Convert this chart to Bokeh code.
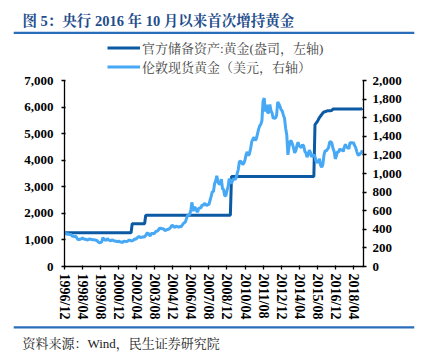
import pandas as pd
from bokeh.plotting import figure
from bokeh.models import (Range1d, LinearAxis, NumeralTickFormatter, FixedTicker,
                          Legend, LegendItem, ColumnDataSource, Title)
from bokeh.embed import file_html
from bokeh.resources import INLINE

title_text = "图 5：央行 2016 年 10 月以来首次增持黄金"
source_text = "资料来源：Wind，民生证券研究院"
series_names = ["官方储备资产:黄金(盎司，左轴)", "伦敦现货黄金（美元，右轴）"]

start_month = "1996-12"
end_month = "2018-12"

# Official gold reserve (10k oz), monthly from 1996/12
gold_reserve = (
    [1267]
    + [1267, 1267, 1267, 1267, 1267, 1267, 1267, 1267, 1267, 1267, 1267, 1267]  # 1997
    + [1267, 1267, 1267, 1267, 1267, 1267, 1267, 1267, 1267, 1267, 1267, 1267]  # 1998
    + [1267, 1267, 1267, 1267, 1267, 1267, 1267, 1267, 1267, 1267, 1267, 1267]  # 1999
    + [1267, 1267, 1267, 1267, 1267, 1267, 1267, 1267, 1267, 1267, 1267, 1267]  # 2000
    + [1267, 1267, 1267, 1267, 1267, 1267, 1267, 1267, 1267, 1267, 1267, 1608]  # 2001
    + [1608, 1608, 1608, 1608, 1608, 1608, 1608, 1608, 1608, 1608, 1608, 1929]  # 2002
    + [1929, 1929, 1929, 1929, 1929, 1929, 1929, 1929, 1929, 1929, 1929, 1929]  # 2003
    + [1929, 1929, 1929, 1929, 1929, 1929, 1929, 1929, 1929, 1929, 1929, 1929]  # 2004
    + [1929, 1929, 1929, 1929, 1929, 1929, 1929, 1929, 1929, 1929, 1929, 1929]  # 2005
    + [1929, 1929, 1929, 1929, 1929, 1929, 1929, 1929, 1929, 1929, 1929, 1929]  # 2006
    + [1929, 1929, 1929, 1929, 1929, 1929, 1929, 1929, 1929, 1929, 1929, 1929]  # 2007
    + [1929, 1929, 1929, 1929, 1929, 1929, 1929, 1929, 1929, 1929, 1929, 1929]  # 2008
    + [1929, 1929, 1929, 3389, 3389, 3389, 3389, 3389, 3389, 3389, 3389, 3389]  # 2009
    + [3389, 3389, 3389, 3389, 3389, 3389, 3389, 3389, 3389, 3389, 3389, 3389]  # 2010
    + [3389, 3389, 3389, 3389, 3389, 3389, 3389, 3389, 3389, 3389, 3389, 3389]  # 2011
    + [3389, 3389, 3389, 3389, 3389, 3389, 3389, 3389, 3389, 3389, 3389, 3389]  # 2012
    + [3389, 3389, 3389, 3389, 3389, 3389, 3389, 3389, 3389, 3389, 3389, 3389]  # 2013
    + [3389, 3389, 3389, 3389, 3389, 3389, 3389, 3389, 3389, 3389, 3389, 3389]  # 2014
    + [3389, 3389, 3389, 3389, 3389, 5332, 5393, 5450, 5529, 5605, 5666, 5719]  # 2015
    + [5779, 5814, 5828, 5842, 5862, 5862, 5862, 5862, 5880, 5924, 5924, 5924]  # 2016
    + [5924, 5924, 5924, 5924, 5924, 5924, 5924, 5924, 5924, 5924, 5924, 5924]  # 2017
    + [5924, 5924, 5924, 5924, 5924, 5924, 5924, 5924, 5924, 5924, 5924, 5956]  # 2018
)

# London spot gold (USD/oz), monthly from 1996/12
gold_price = (
    [369]
    + [355, 346, 352, 344, 344, 341, 324, 324, 323, 325, 306, 289]  # 1997
    + [289, 297, 296, 308, 299, 292, 293, 284, 289, 296, 294, 291]  # 1998
    + [287, 287, 286, 282, 277, 262, 256, 257, 265, 311, 293, 283]  # 1999
    + [285, 300, 286, 280, 275, 286, 282, 275, 274, 270, 266, 272]  # 2000
    + [266, 262, 263, 261, 272, 270, 268, 273, 283, 283, 276, 276]  # 2001
    + [282, 296, 294, 302, 314, 322, 314, 310, 319, 317, 319, 333]  # 2002
    + [357, 359, 340, 328, 355, 356, 351, 360, 379, 379, 389, 407]  # 2003
    + [414, 405, 406, 404, 384, 392, 398, 400, 406, 420, 439, 442]  # 2004
    + [424, 423, 434, 429, 422, 431, 424, 438, 456, 470, 476, 510]  # 2005
    + [549, 555, 557, 610, 690, 596, 634, 632, 599, 586, 627, 629]  # 2006
    + [631, 665, 655, 680, 668, 656, 666, 666, 712, 754, 806, 804]  # 2007
    + [889, 922, 975, 909, 888, 890, 939, 839, 829, 760, 761, 816]  # 2008
    + [858, 943, 925, 890, 928, 946, 934, 949, 996, 1043, 1127, 1134]  # 2009
    + [1118, 1095, 1114, 1149, 1205, 1233, 1193, 1215, 1271, 1343, 1370, 1391]  # 2010
    + [1356, 1372, 1424, 1474, 1512, 1529, 1572, 1780, 1810, 1666, 1739, 1652]  # 2011
    + [1656, 1743, 1675, 1649, 1591, 1598, 1594, 1630, 1770, 1747, 1722, 1685]  # 2012
    + [1671, 1627, 1593, 1487, 1414, 1200, 1286, 1348, 1349, 1316, 1276, 1222]  # 2013
    + [1244, 1300, 1336, 1299, 1287, 1279, 1311, 1296, 1239, 1222, 1176, 1202]  # 2014
    + [1251, 1227, 1179, 1198, 1199, 1181, 1131, 1117, 1125, 1159, 1086, 1068]  # 2015
    + [1097, 1200, 1246, 1242, 1260, 1276, 1337, 1341, 1326, 1267, 1238, 1157]  # 2016
    + [1192, 1234, 1231, 1266, 1246, 1260, 1236, 1283, 1315, 1280, 1283, 1265]  # 2017
    + [1331, 1331, 1325, 1335, 1304, 1281, 1238, 1202, 1198, 1215, 1221, 1250]  # 2018
)

left_ticks = [0, 1000, 2000, 3000, 4000, 5000, 6000, 7000]
right_ticks = [0, 200, 400, 600, 800, 1000, 1200, 1400, 1600, 1800, 2000]

months = pd.date_range(start_month, end_month, freq="MS")
month_labels = [d.strftime("%Y/%m") for d in months]
idx = list(range(len(months)))
tick_idx = idx[::16]

src = ColumnDataSource(dict(x=idx, reserve=gold_reserve, price=gold_price))

DARK = "#0b5aa3"
LIGHT = "#47a9f5"
RULE = "#2a6ebb"
SERIF = "'Liberation Serif', 'Noto Serif CJK SC', 'Noto Sans CJK SC'"

# frame: x 64..363, y 34..266 ; value top (7000 / 2000) sits at y = 80
FRAME_H = 232
AXIS_H = 186
left_top = left_ticks[-1] * FRAME_H / AXIS_H
right_top = right_ticks[-1] * FRAME_H / AXIS_H

p = figure(width=423, height=354, output_backend="svg", toolbar_location=None,
           frame_width=299, frame_height=FRAME_H,
           x_range=Range1d(0, len(idx)), y_range=Range1d(0, left_top),
           min_border_left=64, min_border_right=60, min_border_top=34,
           min_border_bottom=88)
p.extra_y_ranges = {"price": Range1d(0, right_top)}
p.outline_line_color = None
p.xgrid.visible = False
p.ygrid.visible = False

r1 = p.line("x", "reserve", source=src, color=DARK, line_width=3)
r2 = p.line("x", "price", source=src, color=LIGHT, line_width=3, y_range_name="price")

def style_axis(ax, size):
    ax.axis_line_color = "black"
    ax.axis_line_width = 1.3
    ax.major_tick_line_color = "black"
    ax.major_tick_line_width = 1.3
    ax.minor_tick_line_color = None
    ax.major_label_text_font = SERIF
    ax.major_label_text_font_style = "bold"
    ax.major_label_text_font_size = size
    ax.major_label_text_color = "black"
    ax.major_tick_in = 1
    ax.major_tick_out = 3

xa = p.xaxis[0]
style_axis(xa, "14px")
xa.ticker = FixedTicker(ticks=tick_idx)
xa.major_label_overrides = {i: month_labels[i] for i in tick_idx}
xa.major_label_orientation = "vertical"
xa.major_label_standoff = 4

ya = p.yaxis[0]
style_axis(ya, "13px")
ya.ticker = FixedTicker(ticks=left_ticks)
ya.bounds = (left_ticks[0], left_ticks[-1])
ya.formatter = NumeralTickFormatter(format="0,0")
ya.major_label_standoff = 8

ra = LinearAxis(y_range_name="price")
style_axis(ra, "13px")
ra.ticker = FixedTicker(ticks=right_ticks)
ra.bounds = (right_ticks[0], right_ticks[-1])
ra.formatter = NumeralTickFormatter(format="0,0")
ra.major_label_standoff = 6
p.add_layout(ra, "right")

legend = Legend(items=[LegendItem(label=series_names[0], renderers=[r1]),
                       LegendItem(label=series_names[1], renderers=[r2])],
                location=(43, 190), orientation="vertical",
                border_line_color=None, background_fill_alpha=0,
                glyph_width=33, glyph_height=17, label_height=17,
                label_text_font_size="13px", label_text_font=SERIF,
                label_standoff=2, padding=0, margin=0, spacing=0)
p.add_layout(legend, "center")

# header rule (closest to frame) and title
p.add_layout(Title(text=" ", align="center", offset=-2, standoff=1,
                   text_font_size="2px", background_fill_color=RULE,
                   padding=(200, 200, 0, 0)), "above")
p.title.text = title_text
p.title.align = "left"
p.title.offset = -42
p.title.text_font = SERIF
p.title.text_font_style = "bold"
p.title.text_font_size = "14.5px"
p.title.text_color = "#1f4e8c"
p.title.standoff = 2

# footer rule and source
p.add_layout(Title(text=" ", align="center", offset=-2, standoff=4,
                   text_font_size="2px", background_fill_color=RULE,
                   padding=(200, 200, 0, 0)), "below")
p.add_layout(Title(text=source_text, align="left", offset=-42, standoff=7,
                   text_font=SERIF, text_font_size="13px", text_font_style="normal",
                   text_color="#222222"), "below")

open("out.html", "w").write(file_html(p, INLINE))
